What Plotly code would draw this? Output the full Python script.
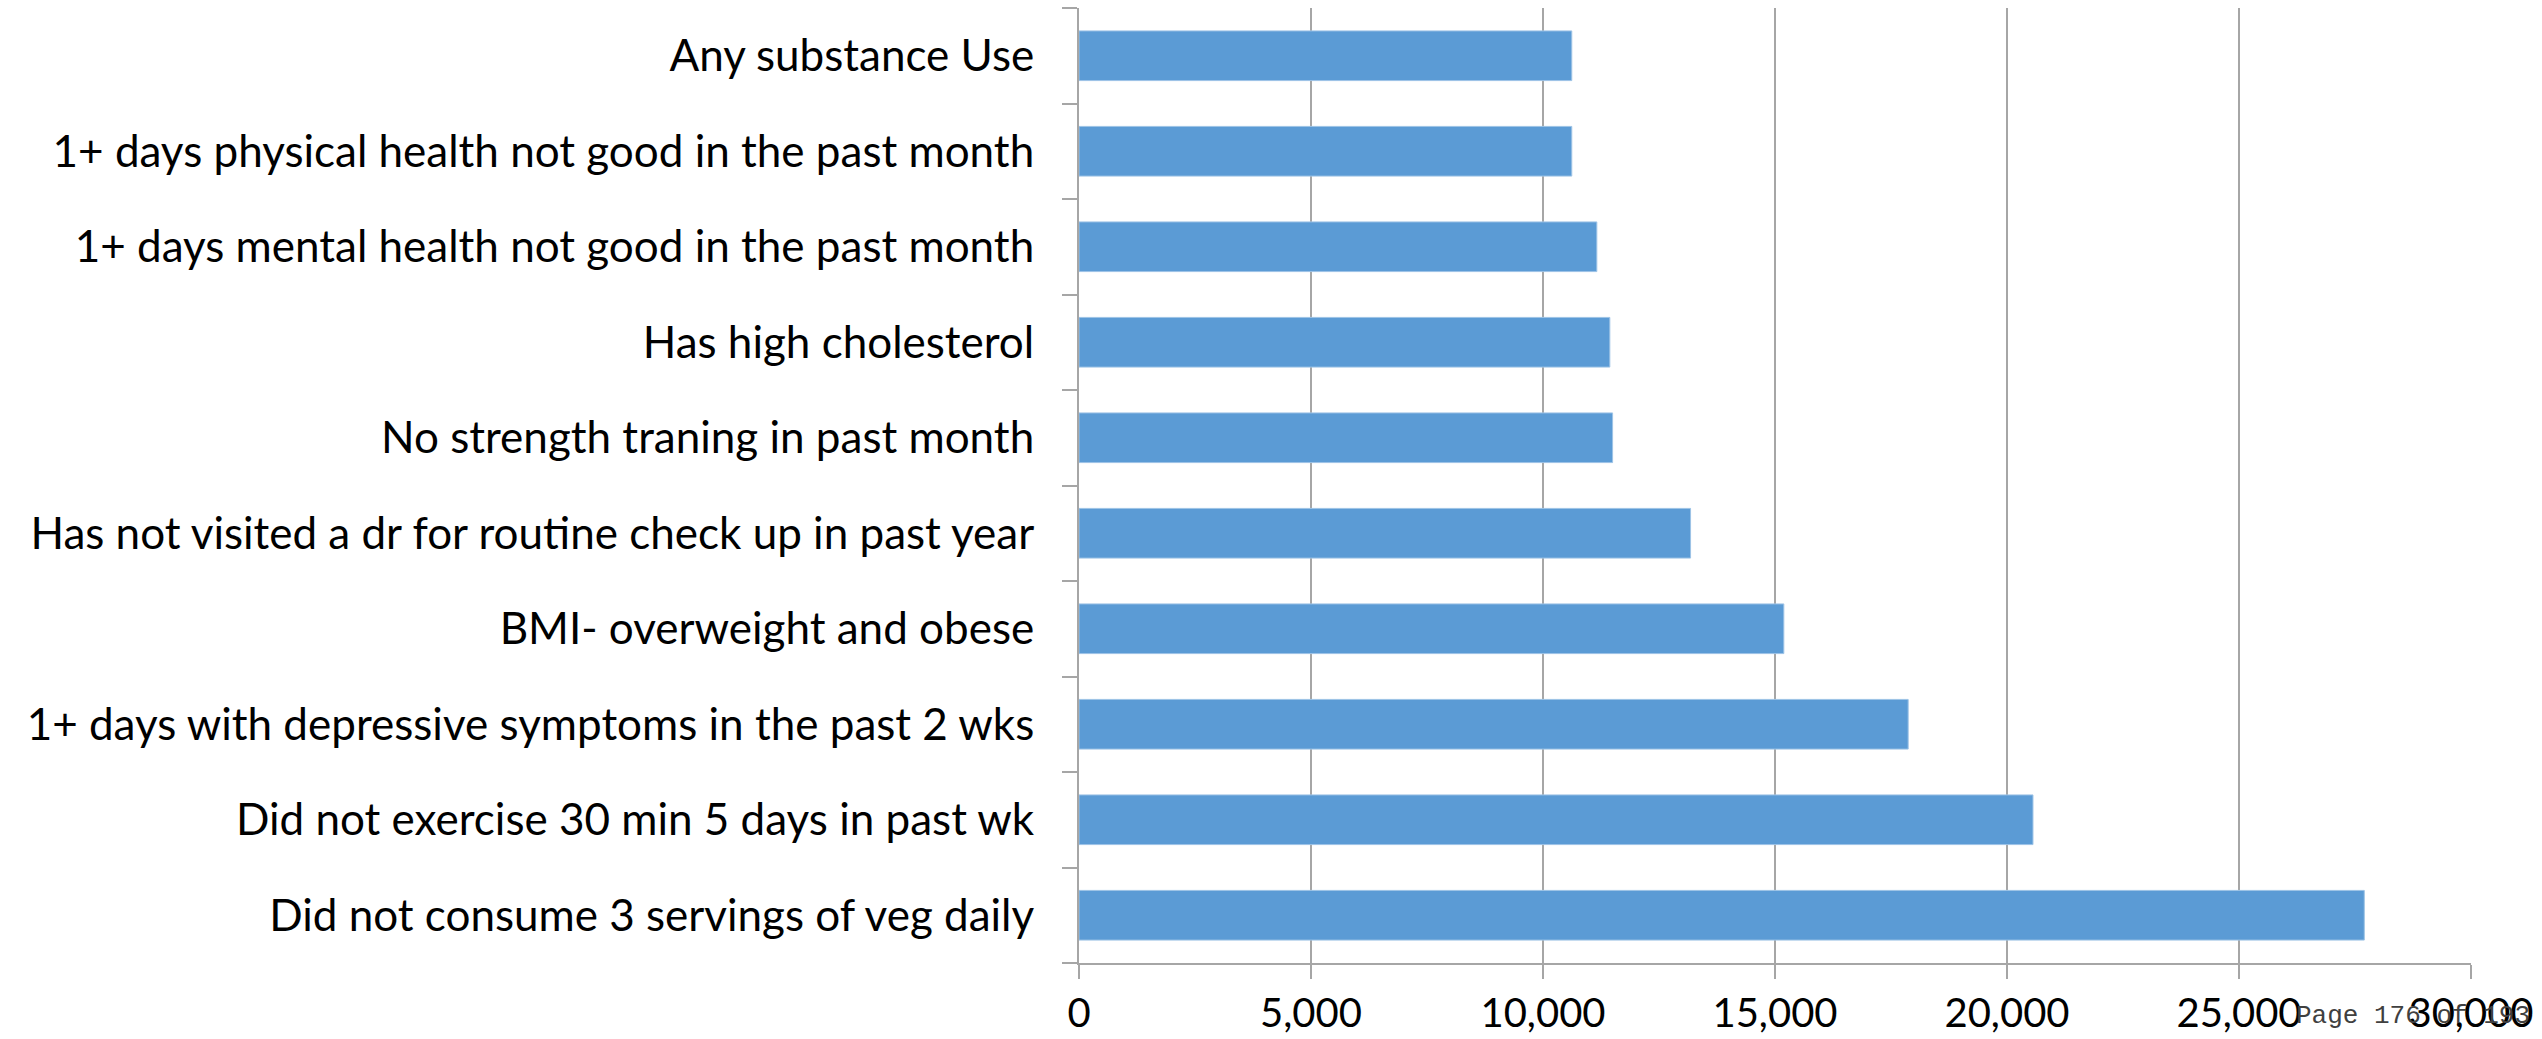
import plotly.graph_objects as go

categories = [
    "Did not consume 3 servings of veg daily",
    "Did not exercise 30 min 5 days in past wk",
    "1+ days with depressive symptoms in the past 2 wks",
    "BMI- overweight and obese",
    "Has not visited a dr for routine check up in past year",
    "No strength traning in past month",
    "Has high cholesterol",
    "1+ days mental health not good in the past month",
    "1+ days physical health not good in the past month",
    "Any substance Use",
]
values = [27700, 20560, 17870, 15190, 13180, 11500, 11440, 11160, 10620, 10620]
tick_vals = [0, 5000, 10000, 15000, 20000, 25000, 30000]
tick_text = ["0", "5,000", "10,000", "15,000", "20,000", "25,000", "30,000"]
footer = "Page 176 of 193"

fig = go.Figure(go.Bar(
    y=categories, x=values, orientation="h",
    marker=dict(color="#5b9bd5", line=dict(color="#9dc3e6", width=1)),
))

fig.update_layout(
    width=2542, height=1039,
    margin=dict(l=1079, r=71, t=8, b=76),
    paper_bgcolor="white", plot_bgcolor="white",
    bargap=0.48,
    showlegend=False,
    font=dict(family="Lato", size=40, color="black"),
    annotations=[dict(
        text=footer,
        x=(2294 - 1079) / (2542 - 1079 - 71),
        y=-(1033 - 963) / (1039 - 8 - 76),
        xref="paper", yref="paper",
        showarrow=False, font=dict(family="Liberation Mono", size=26, color="#404040"),
        xanchor="left", yanchor="bottom",
    )],
)

fig.update_xaxes(
    range=[0, 30000], tickvals=tick_vals, ticktext=tick_text,
    showgrid=True, gridcolor="#a6a6a6", gridwidth=1.5,
    showline=True, linecolor="#a6a6a6", linewidth=2,
    ticks="outside", ticklen=14, tickcolor="#a6a6a6", tickwidth=1.5,
    zeroline=False, tickfont=dict(size=40), fixedrange=True, automargin=False,
)
fig.update_yaxes(
    showgrid=False, showline=True, linecolor="#a6a6a6", linewidth=2,
    ticks="outside", ticklen=15, tickcolor="#a6a6a6", tickwidth=1.5,
    tickson="boundaries", tickfont=dict(size=44), ticklabelstandoff=34,
    automargin=False,
)

fig.write_html("out.html")
